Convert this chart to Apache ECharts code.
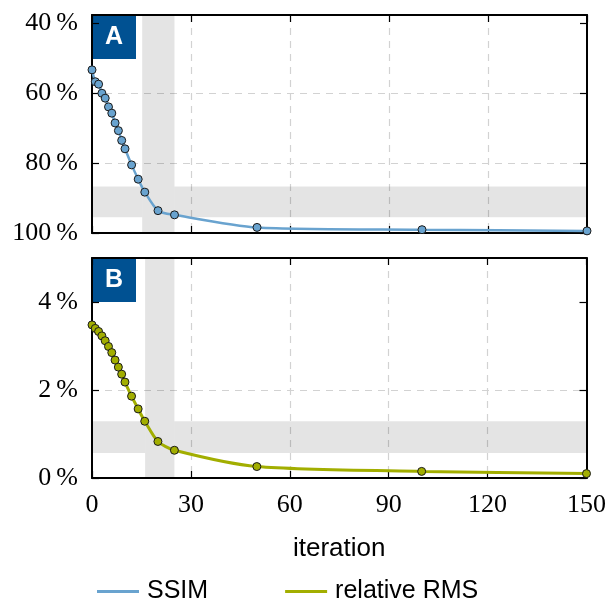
<!DOCTYPE html>
<html>
<head>
<meta charset="utf-8">
<script src="https://cdn.jsdelivr.net/npm/echarts@6/dist/echarts.min.js"></script>
<style>
  html, body { margin: 0; padding: 0; background: #fff; }
  #main { width: 609px; height: 608px; }
</style>
</head>
<body>
<div id="main"></div>
<script>
// iteration counts where both metrics were sampled
const iterations = [0, 1, 2, 3, 4, 5, 6, 7, 8, 9, 10, 12, 14, 16, 20, 25, 50, 100, 150]
// panel A: SSIM in %
const ssim = [53.3, 56.7, 57.4, 60.0, 61.4, 63.9, 65.7, 68.5, 70.7, 73.5, 75.9, 80.5, 84.6, 88.3, 93.6, 94.8, 98.4, 99.05, 99.4]
// panel B: relative RMS in %
const rms = [3.48, 3.40, 3.33, 3.23, 3.12, 2.99, 2.85, 2.68, 2.52, 2.36, 2.18, 1.86, 1.57, 1.29, 0.83, 0.63, 0.26, 0.15, 0.10]

const xTicks = [0, 30, 60, 90, 120, 150]
const ssimTicks = [40, 60, 80, 100]
const rmsTicks = [0, 2, 4]

// shaded bands [from, to]
const bandAx = [15.2, 25]
const bandAy = [86.7, 95.5]
const bandBx = [16.1, 25]
const bandBy = [0.57, 1.29]

const ssimRange = [37.6, 100]
const rmsRange = [0, 5]

const serif = 'Liberation Serif'
const sans = 'Liberation Sans'
const gridDash = { color: '#d2d2d2', type: [7, 6], width: 1.2 }
const bandColor = 'rgba(0,0,0,0.105)'
const frame = { show: true, onZero: false, lineStyle: { color: '#000', width: 2 } }

const chart = echarts.init(document.getElementById('main'))

/** x axis, bottom or top of a panel */
function xAxisFor(gridIndex, position, withLabels) {
  return {
    type: 'value',
    gridIndex,
    position,
    min: xTicks[0],
    max: xTicks[xTicks.length - 1],
    interval: 30,
    axisLine: frame,
    axisTick: { show: true, inside: true, length: 7, lineStyle: { color: '#000', width: 1.2 } },
    axisLabel: {
      show: withLabels,
      fontFamily: serif,
      fontSize: 26,
      color: '#000',
      margin: 14,
    },
    splitLine: { show: position === 'bottom', showMinLine: false, showMaxLine: false, lineStyle: gridDash },
    name: withLabels ? 'iteration' : '',
    nameLocation: 'middle',
    nameGap: 58,
    nameTextStyle: { fontFamily: sans, fontSize: 26, color: '#000' },
  }
}

/** y axis, left or right of a panel */
function yAxisFor(gridIndex, position, range, ticks, inverse) {
  return {
    type: 'value',
    gridIndex,
    position,
    inverse,
    min: range[0],
    max: range[1],
    axisLine: frame,
    axisTick: {
      show: true,
      inside: true,
      length: 7,
      customValues: ticks,
      lineStyle: { color: '#000', width: 1.2 },
    },
    axisLabel: {
      show: position === 'left',
      customValues: ticks,
      fontFamily: serif,
      fontSize: 26,
      color: '#000',
      margin: 14,
      formatter: (v) => v + '\u2009%',
    },
    splitLine: { show: position === 'left', showMinLine: false, showMaxLine: false, lineStyle: gridDash },
  }
}

/** gray bands, horizontal one split so the overlap is not darkened */
function bands(bx, by, yr) {
  return [
    [{ xAxis: bx[0], yAxis: yr[0] }, { xAxis: bx[1], yAxis: yr[1] }],
    [{ xAxis: xTicks[0], yAxis: by[0] }, { xAxis: bx[0], yAxis: by[1] }],
    [{ xAxis: bx[1], yAxis: by[0] }, { xAxis: xTicks[xTicks.length - 1], yAxis: by[1] }],
  ]
}

function panelLabel(text, top) {
  return {
    type: 'group',
    left: 92,
    top,
    z: 100,
    children: [
      { type: 'rect', shape: { x: 0, y: 0, width: 44, height: 44 }, style: { fill: '#005192' } },
      {
        type: 'text',
        x: 22,
        y: 22,
        style: {
          text,
          fill: '#fff',
          font: 'bold 25px "Liberation Sans"',
          align: 'center',
          verticalAlign: 'middle',
        },
      },
    ],
  }
}

const option = {
  animation: false,
  backgroundColor: '#fff',
  grid: [
    { left: 92, right: 22, top: 15, height: 218 },
    { left: 92, right: 22, top: 258, height: 220 },
  ],
  xAxis: [
    xAxisFor(0, 'bottom', false),
    xAxisFor(1, 'bottom', true),
    xAxisFor(0, 'top', false),
    xAxisFor(1, 'top', false),
  ],
  yAxis: [
    yAxisFor(0, 'left', ssimRange, ssimTicks, true),
    yAxisFor(1, 'left', rmsRange, rmsTicks, false),
    yAxisFor(0, 'right', ssimRange, ssimTicks, true),
    yAxisFor(1, 'right', rmsRange, rmsTicks, false),
  ],
  legend: {
    left: 92,
    top: 574,
    icon: 'rect',
    itemWidth: 42,
    itemHeight: 3,
    itemGap: 77,
    itemStyle: { borderWidth: 0 },
    textStyle: { fontFamily: sans, fontSize: 25, color: '#000', padding: [0, 0, 0, 3] },
    data: ['SSIM', 'relative RMS'],
  },
  graphic: [panelLabel('A', 15), panelLabel('B', 258)],
  series: [
    {
      name: 'SSIM',
      type: 'line',
      xAxisIndex: 0,
      yAxisIndex: 0,
      smooth: 0.25,
      symbol: 'circle',
      symbolSize: 8,
      color: '#69a3cf',
      lineStyle: { width: 2.5, color: '#69a3cf' },
      itemStyle: { color: '#69a3cf', borderColor: '#1a1a1a', borderWidth: 1 },
      data: iterations.map((it, i) => [it, ssim[i]]),
      markArea: { silent: true, itemStyle: { color: bandColor }, data: bands(bandAx, bandAy, ssimRange) },
    },
    {
      name: 'relative RMS',
      type: 'line',
      xAxisIndex: 1,
      yAxisIndex: 1,
      smooth: 0.25,
      symbol: 'circle',
      symbolSize: 8,
      color: '#a2ae00',
      lineStyle: { width: 3, color: '#a2ae00' },
      itemStyle: { color: '#a2ae00', borderColor: '#1a1a1a', borderWidth: 1 },
      data: iterations.map((it, i) => [it, rms[i]]),
      markArea: { silent: true, itemStyle: { color: bandColor }, data: bands(bandBx, bandBy, rmsRange) },
    },
  ],
}

chart.setOption(option)
</script>
</body>
</html>
